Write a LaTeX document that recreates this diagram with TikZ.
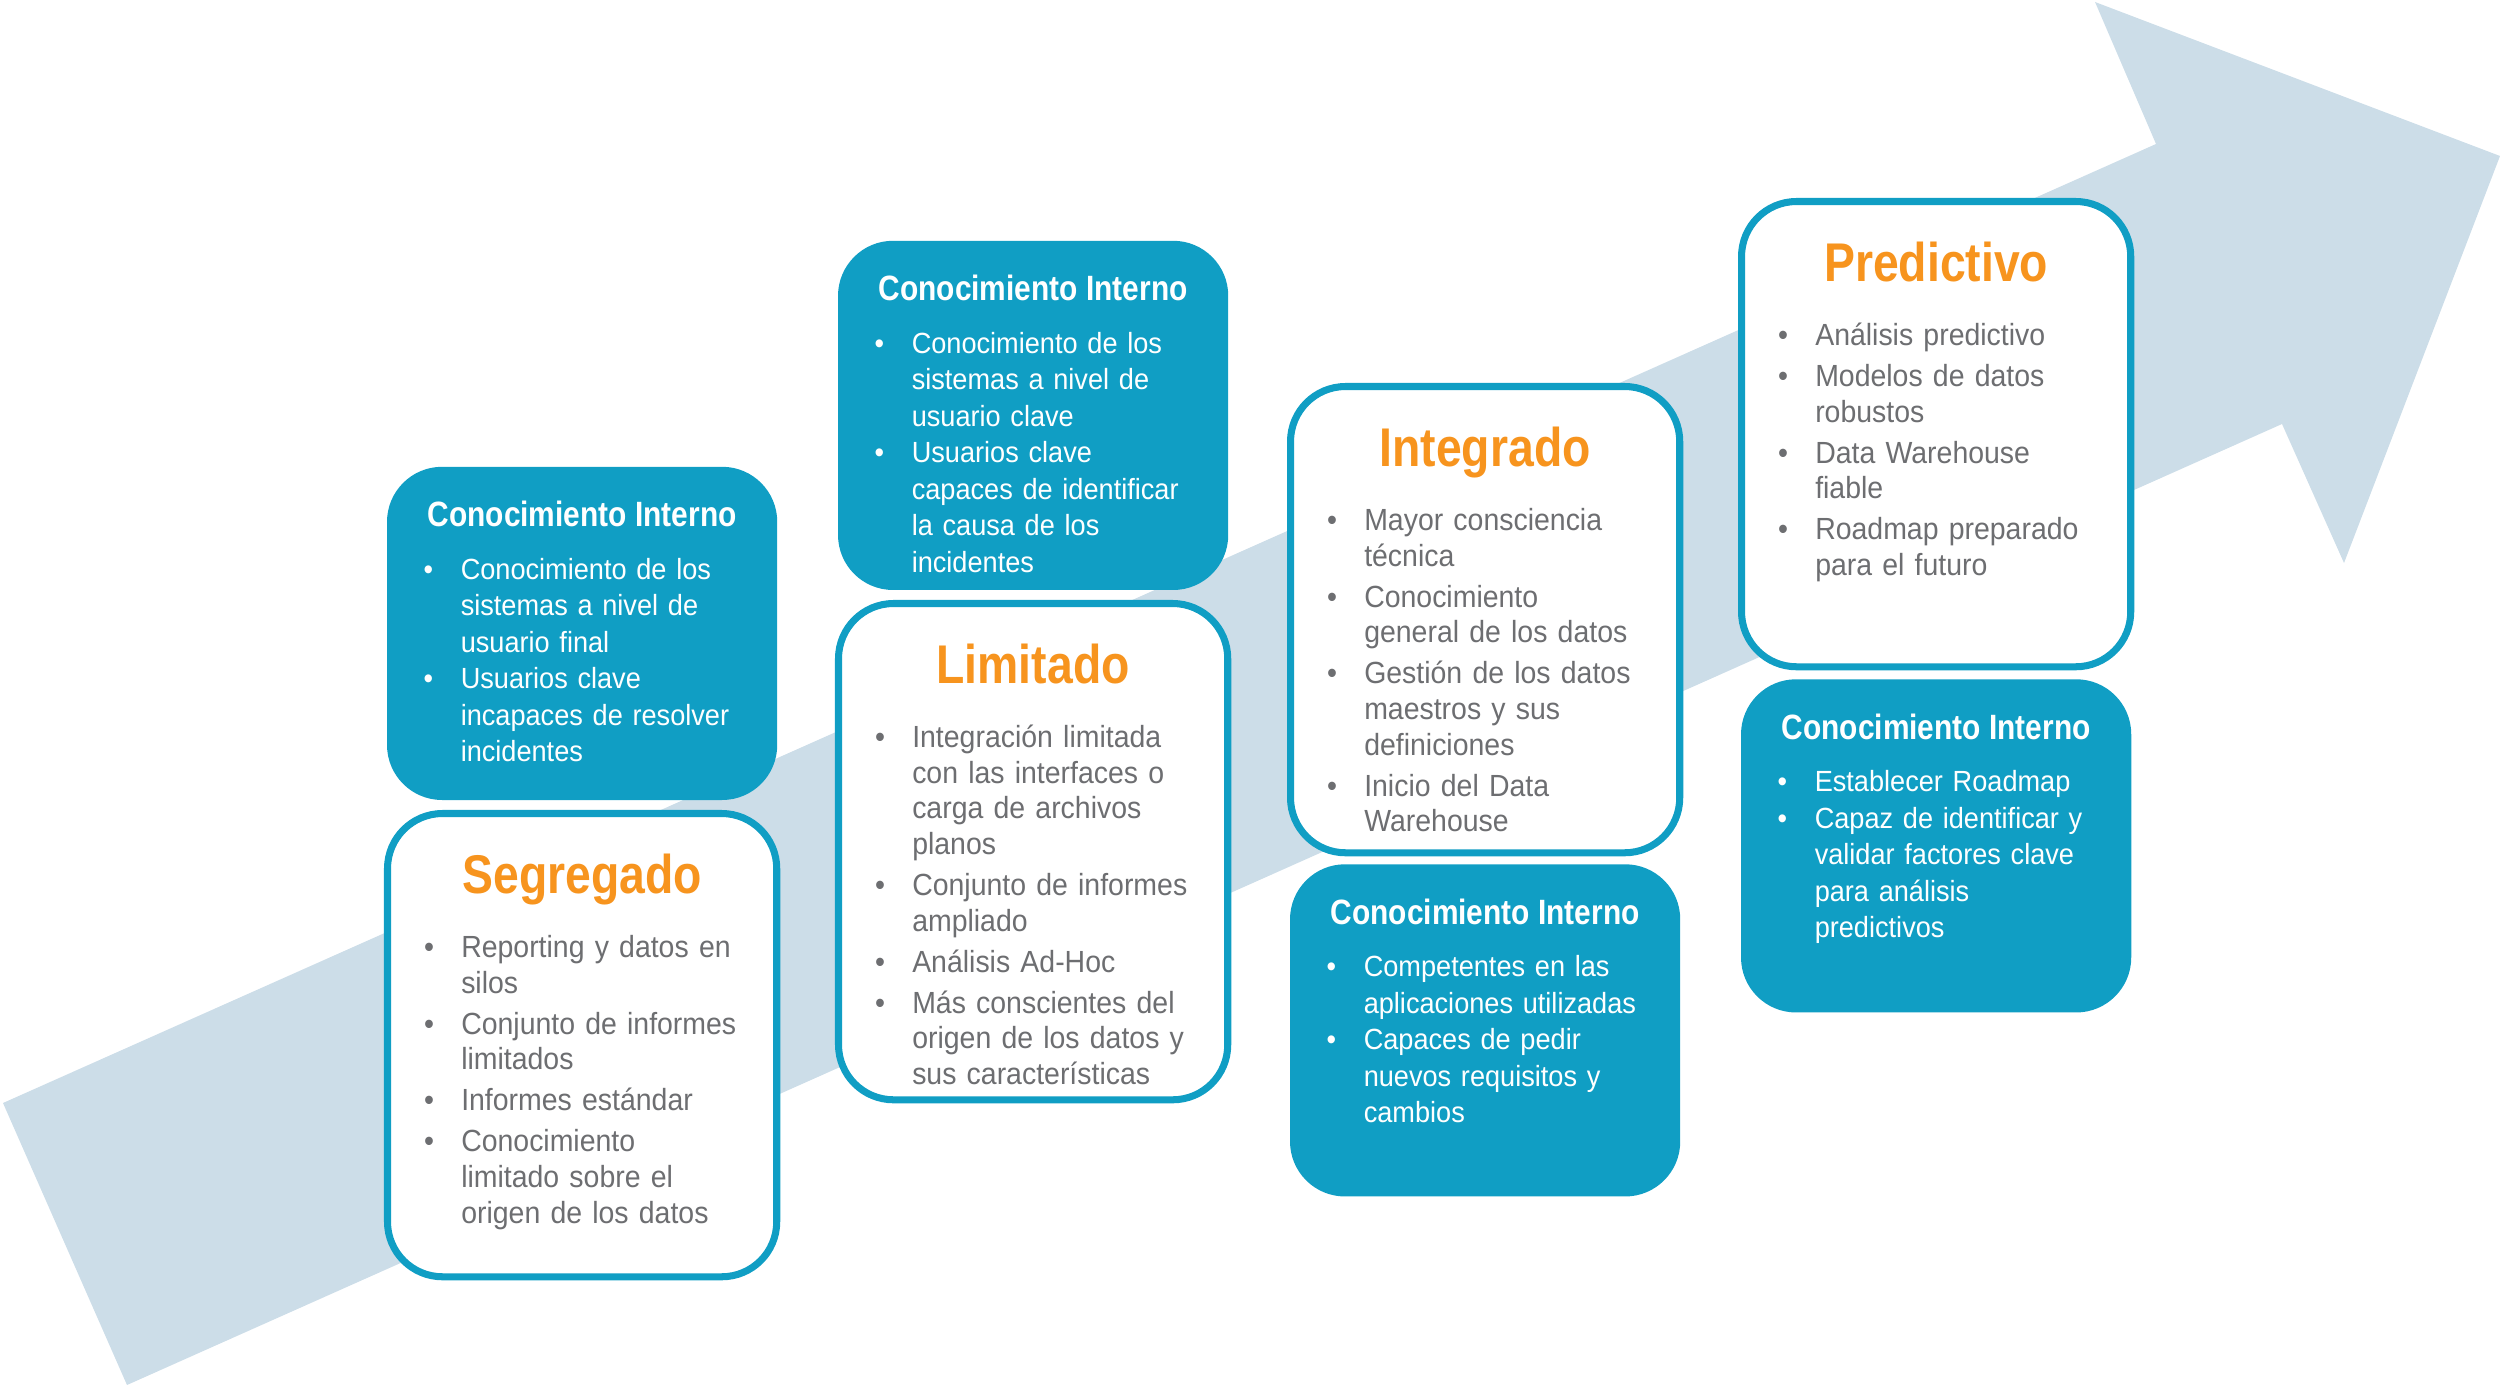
\documentclass[tikz,border=0pt]{standalone}
\usepackage{fontspec}
\setmainfont{Liberation Sans}[FakeStretch=0.93,BoldFeatures={FakeStretch=0.85}]
\usepackage{enumitem}
\usetikzlibrary{positioning}

\definecolor{ciblue}{RGB}{16,158,196}
\definecolor{stageorange}{RGB}{247,148,30}
\definecolor{bodygray}{RGB}{109,110,113}
\definecolor{arrowbg}{RGB}{204,221,232}

% bullet list used inside the boxes
\newlist{pts}{itemize}{1}
\setlist[pts]{label=\textbullet, leftmargin=3.7mm, labelsep=0pt, labelwidth=3.7mm,
  align=left, itemsep=0pt, parsep=0pt, topsep=0pt, partopsep=0pt}

\tikzset{
  cibox/.style={fill=ciblue, rounded corners=5.5mm, minimum width=39mm,
    inner sep=0pt, outer sep=0pt},
  stagebox/.style={draw=ciblue, line width=2pt, fill=white, rounded corners=5.5mm,
    minimum width=38.9mm, inner sep=0pt, outer sep=0pt},
  cititle/.style={text=white, font=\bfseries\fontsize{10}{12}\selectfont,
    anchor=base, inner sep=0pt},
  stagetitle/.style={text=stageorange, font=\bfseries\fontsize{15.5}{18}\selectfont,
    anchor=base, inner sep=0pt},
  cilist/.style={text=white, font=\fontsize{8.3}{10.4}\selectfont, text width=35mm,
    align=left, anchor=north west, inner sep=0pt},
  stagelist/.style={cilist, text=bodygray, font=\fontsize{8.7}{10.15}\selectfont}
}

\begin{document}
\begin{tikzpicture}[x=0.01cm, y=-0.01cm]
  \useasboundingbox (0,0) rectangle (2500,1385);
  % --- background arrow ---
  \fill[arrowbg] (3,1103) -- (2156,144) -- (2095,2) -- (2500,156)
    -- (2344,563) -- (2282,424) -- (127,1385) -- cycle;

  % --- stage boxes ---
  \node[stagebox, anchor=north west, minimum height=46.3mm] (seg) at (387.5,813.5) {};
  \node[stagebox, anchor=north west, minimum height=49.6mm] (lim) at (838.5,603.5) {};
  \node[stagebox, anchor=north west, minimum height=46.6mm] (integ) at (1290.5,386.5) {};
  \node[stagebox, anchor=north west, minimum height=46.5mm] (pred) at (1741.5,201.5) {};

  % --- knowledge boxes ---
  \node[cibox, minimum height=33.3mm, above=1.35mm of seg] (ci1) {};
  \node[cibox, minimum height=34.9mm, above=1.35mm of lim] (ci2) {};
  \node[cibox, minimum height=33.2mm, below=1.15mm of integ] (ci3) {};
  \node[cibox, minimum height=33.3mm, below=1.25mm of pred] (ci4) {};

  % --- titles ---
  \node[stagetitle] (segt) at ([yshift=-7.95mm]seg.north) {Segregado};
  \node[stagetitle] (limt) at ([yshift=-7.95mm]lim.north) {Limitado};
  \node[stagetitle] (integt) at ([yshift=-7.95mm]integ.north) {Integrado};
  \node[stagetitle] (predt) at ([yshift=-7.95mm]pred.north) {Predictivo};
  \foreach \b in {ci1,ci2,ci3,ci4}
    \node[cititle] (\b t) at ([yshift=-6mm]\b.north) {Conocimiento Interno};

  % --- stage lists ---
  \node[stagelist] (segl) at ([xshift=3.6mm,yshift=-10.75mm]seg.north west) {%
    \begin{pts}[itemsep=1.5pt]
      \item Reporting y datos en\\ silos
      \item Conjunto de informes\\ limitados
      \item Informes estándar
      \item Conocimiento\\ limitado sobre el\\ origen de los datos
    \end{pts}};
  \node[stagelist] (liml) at ([xshift=3.6mm,yshift=-10.75mm]lim.north west) {%
    \begin{pts}[itemsep=1.5pt]
      \item Integración limitada\\ con las interfaces o\\ carga de archivos\\ planos
      \item Conjunto de informes\\ ampliado
      \item Análisis Ad-Hoc
      \item Más conscientes del\\ origen de los datos y\\ sus características
    \end{pts}};
  \node[stagelist] (integl) at ([xshift=3.6mm,yshift=-10.75mm]integ.north west) {%
    \begin{pts}[itemsep=1.5pt]
      \item Mayor consciencia\\ técnica
      \item Conocimiento\\ general de los datos
      \item Gestión de los datos\\ maestros y sus\\ definiciones
      \item Inicio del Data\\ Warehouse
    \end{pts}};
  \node[stagelist] (predl) at ([xshift=3.6mm,yshift=-10.75mm]pred.north west) {%
    \begin{pts}[itemsep=1.5pt]
      \item Análisis predictivo
      \item Modelos de datos\\ robustos
      \item Data Warehouse\\ fiable
      \item Roadmap preparado\\ para el futuro
    \end{pts}};

  % --- knowledge lists ---
  \node[cilist] (ci1l) at ([xshift=3.6mm,yshift=-7.5mm]ci1.north west) {%
    \begin{pts}
      \item Conocimiento de los\\ sistemas a nivel de\\ usuario final
      \item Usuarios clave\\ incapaces de resolver\\ incidentes
    \end{pts}};
  \node[cilist] (ci2l) at ([xshift=3.6mm,yshift=-7.5mm]ci2.north west) {%
    \begin{pts}
      \item Conocimiento de los\\ sistemas a nivel de\\ usuario clave
      \item Usuarios clave\\ capaces de identificar\\ la causa de los\\ incidentes
    \end{pts}};
  \node[cilist] (ci3l) at ([xshift=3.6mm,yshift=-7.5mm]ci3.north west) {%
    \begin{pts}
      \item Competentes en las\\ aplicaciones utilizadas
      \item Capaces de pedir\\ nuevos requisitos y\\ cambios
    \end{pts}};
  \node[cilist] (ci4l) at ([xshift=3.6mm,yshift=-7.5mm]ci4.north west) {%
    \begin{pts}
      \item Establecer Roadmap
      \item Capaz de identificar y\\ validar factores clave\\ para análisis\\ predictivos
    \end{pts}};
\end{tikzpicture}
\end{document}
